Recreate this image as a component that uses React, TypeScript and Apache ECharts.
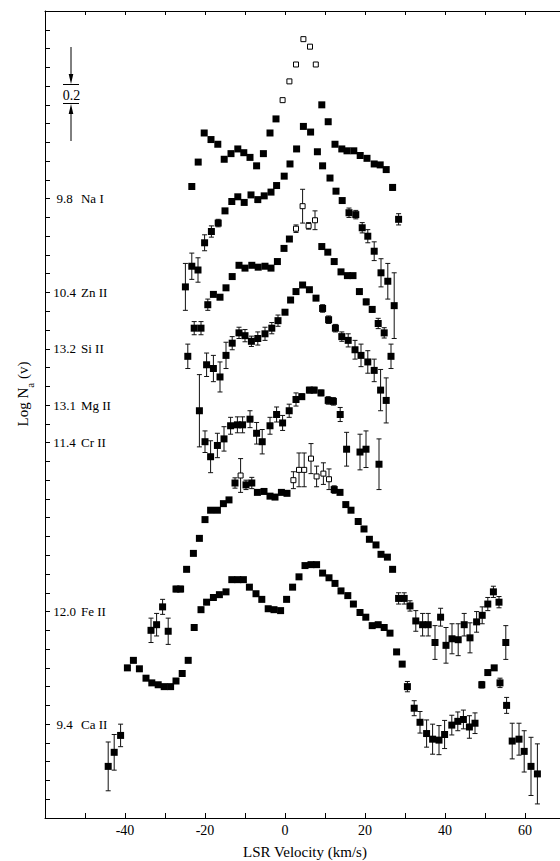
import React, { useEffect, useRef } from 'react';
import * as echarts from 'echarts';

// [velocity km/s, log N offset (dex), error half-width (dex), open symbol flag]
type Pt = [number, number, number, number];

const NA_I: Pt[] = [
  [-23.3, 6.73, 0, 0], [-21.7, 6.99, 0, 0], [-20.2, 7.30, 0, 0], [-18.5, 7.23, 0, 0], [-16.8, 7.18, 0, 0],
  [-15.2, 7.02, 0, 0], [-13.5, 7.08, 0, 0], [-11.8, 7.13, 0, 0], [-10.3, 7.09, 0, 0], [-8.75, 7.04, 0, 0],
  [-7.1, 6.95, 0, 0], [-5.4, 7.08, 0, 0], [-3.75, 7.30, 0, 0], [-2.25, 7.45, 0, 0], [-0.6, 7.65, 0, 1],
  [1.1, 7.85, 0, 1], [2.75, 8.03, 0, 1], [4.6, 8.30, 0, 1], [6.25, 8.22, 0, 1], [7.7, 8.03, 0, 1],
  [9.2, 7.60, 0, 0], [10.8, 7.42, 0, 0], [12.5, 7.18, 0, 0], [14.2, 7.13, 0, 0], [15.5, 7.11, 0, 0],
  [17.2, 7.11, 0, 0], [18.8, 7.06, 0, 0], [20.5, 7.03, 0, 0], [22.3, 6.97, 0, 0], [23.8, 6.96, 0, 0],
  [25.3, 6.91, 0, 0], [26.9, 6.72, 0.03, 0], [28.4, 6.38, 0.06, 0],
];

const ZN_II: Pt[] = [
  [-24.9, 5.66, 0.25, 0], [-23.3, 5.88, 0.14, 0], [-21.75, 5.84, 0.13, 0], [-20.1, 6.13, 0.085, 0], [-18.4, 6.25, 0.06, 0],
  [-16.7, 6.34, 0.04, 0], [-15, 6.47, 0, 0], [-13.3, 6.57, 0, 0], [-11.8, 6.62, 0, 0], [-10.2, 6.56, 0, 0],
  [-8.5, 6.64, 0, 0], [-6.8, 6.59, 0, 0], [-5.2, 6.63, 0, 0], [-3.5, 6.67, 0, 0], [-2.1, 6.74, 0, 0],
  [-0.2, 6.84, 0, 0], [1.25, 6.97, 0, 0], [2.9, 7.13, 0, 0], [4.6, 7.37, 0, 0], [6.4, 7.31, 0, 0],
  [8.1, 7.10, 0, 0], [9.4, 6.95, 0, 0], [11.25, 6.82, 0, 0], [12.75, 6.68, 0, 0], [14.3, 6.58, 0, 0],
  [16, 6.45, 0.05, 0], [17.7, 6.43, 0.045, 0], [19.3, 6.29, 0.055, 0], [20.7, 6.20, 0.07, 0], [22.3, 6.04, 0.1, 0],
  [24, 5.81, 0.15, 0], [25.7, 5.72, 0.19, 0], [27.3, 5.46, 0.35, 0],
];

const SI_II: Pt[] = [
  [-22.7, 5.22, 0.07, 0], [-21, 5.22, 0.07, 0], [-19.3, 5.47, 0.06, 0], [-17.9, 5.58, 0, 0], [-16.25, 5.55, 0, 0],
  [-14.75, 5.65, 0, 0], [-13.2, 5.77, 0, 0], [-11.5, 5.89, 0, 0], [-10, 5.86, 0, 0], [-8.3, 5.89, 0, 0],
  [-6.7, 5.87, 0, 0], [-5, 5.88, 0, 0], [-3.5, 5.86, 0, 0], [-1.9, 5.93, 0, 0], [-0.25, 6.07, 0, 0],
  [1.1, 6.17, 0, 0], [2.75, 6.28, 0.04, 1], [4.4, 6.52, 0.18, 1], [5.9, 6.31, 0.035, 1], [7.5, 6.37, 0.1, 1],
  [9.2, 6.09, 0, 0], [10.7, 6.03, 0, 0], [12.3, 5.93, 0, 0], [14, 5.82, 0, 0], [15.6, 5.78, 0, 0],
  [17, 5.78, 0, 0], [18.6, 5.61, 0, 0], [20.3, 5.50, 0.03, 0], [21.8, 5.42, 0.03, 0], [23.3, 5.27, 0.055, 0],
  [24.8, 5.17, 0.055, 0], [26.5, 4.92, 0.13, 0],
];

const MG_II: Pt[] = [
  [-24.3, 4.92, 0.13, 0], [-19.6, 4.83, 0.125, 0], [-17.9, 4.79, 0.14, 0], [-16.25, 4.70, 0.16, 0], [-14.75, 4.93, 0.14, 0],
  [-13.2, 5.06, 0.07, 0], [-11.5, 5.17, 0.06, 0], [-10, 5.14, 0.065, 0], [-8.4, 5.08, 0.055, 0], [-6.8, 5.11, 0.07, 0],
  [-5, 5.16, 0.07, 0], [-3.3, 5.22, 0.06, 0], [-1.75, 5.30, 0.06, 0], [0, 5.39, 0, 0], [1.4, 5.52, 0, 0],
  [2.75, 5.61, 0, 0], [4.4, 5.68, 0, 0], [6.1, 5.63, 0, 0], [7.75, 5.54, 0, 0], [9.4, 5.43, 0.04, 0],
  [10.9, 5.31, 0.04, 0], [12.6, 5.22, 0.04, 0], [14.2, 5.13, 0.05, 0], [15.8, 5.09, 0.07, 0], [17.5, 4.99, 0.1, 0],
  [19, 4.93, 0.12, 0], [20.7, 4.86, 0.12, 0], [22.3, 4.77, 0.12, 0], [23.9, 4.56, 0.22, 0], [25.3, 4.45, 0.24, 0],
];

const CR_II: Pt[] = [
  [-21.4, 4.34, 0.385, 0], [-20, 4.01, 0.115, 0], [-18.6, 3.85, 0.17, 0], [-16.9, 3.97, 0.13, 0], [-15.25, 4.04, 0.13, 0],
  [-13.6, 4.18, 0.09, 0], [-11.9, 4.19, 0.085, 0], [-10.6, 4.19, 0.085, 0], [-8.75, 4.25, 0.09, 0], [-7.1, 4.10, 0.115, 0],
  [-5.7, 4.01, 0.13, 0], [-3.75, 4.18, 0.09, 0], [-2.1, 4.30, 0.08, 0], [-0.6, 4.21, 0.08, 0], [1.05, 4.34, 0.07, 0],
  [2.75, 4.46, 0.07, 0], [4.2, 4.49, 0.03, 0], [6.1, 4.56, 0.03, 0], [7.3, 4.56, 0.03, 0], [9, 4.53, 0.03, 0],
  [10.8, 4.45, 0.04, 0], [12.1, 4.44, 0.04, 0], [13.8, 4.30, 0.075, 0], [15.4, 3.93, 0.18, 0], [18.75, 3.90, 0.19, 0],
  [20.25, 3.93, 0.195, 0], [23.5, 3.77, 0.27, 0],
];

const FE_II: Pt[] = [
  [-33.5, 2.00, 0.13, 0], [-32.1, 2.06, 0.12, 0], [-30.6, 2.25, 0.08, 0], [-29.2, 1.99, 0.14, 0], [-27.25, 2.44, 0.03, 0],
  [-26.1, 2.44, 0.03, 0], [-24.6, 2.65, 0, 0], [-22.9, 2.82, 0, 0], [-21.4, 2.98, 0, 0], [-20, 3.18, 0, 0],
  [-18.6, 3.28, 0, 0], [-16.9, 3.28, 0, 0], [-15.4, 3.35, 0, 0], [-14, 3.39, 0, 0], [-12.5, 3.57, 0.055, 0],
  [-11.1, 3.65, 0.18, 1], [-9.75, 3.55, 0.05, 0], [-8.3, 3.57, 0.06, 0], [-6.9, 3.47, 0, 0], [-5.25, 3.48, 0, 0],
  [-3.75, 3.43, 0, 0], [-2.5, 3.42, 0, 0], [-0.9, 3.47, 0, 0], [0.5, 3.46, 0, 0], [2.1, 3.60, 0.09, 1],
  [3.5, 3.71, 0.18, 1], [4.8, 3.71, 0.18, 1], [6.5, 3.83, 0.16, 1], [7.9, 3.64, 0.11, 1], [9.6, 3.67, 0.115, 1],
  [11, 3.61, 0.11, 1], [12.3, 3.50, 0.04, 0], [13.75, 3.47, 0, 0], [15.2, 3.34, 0, 0], [16.5, 3.28, 0, 0],
  [18.3, 3.16, 0, 0], [19.75, 3.08, 0, 0], [21.1, 2.97, 0, 0], [22.75, 2.91, 0, 0], [24, 2.81, 0, 0],
  [25.6, 2.78, 0, 0], [26.9, 2.65, 0, 0], [28.4, 2.34, 0.06, 0], [29.8, 2.34, 0.06, 0], [31.25, 2.26, 0.055, 0],
  [32.7, 2.10, 0.11, 0], [34.4, 2.06, 0.12, 0], [35.8, 2.06, 0.12, 0], [37.5, 1.87, 0.18, 0], [38.9, 2.14, 0.095, 0],
  [40.25, 1.84, 0.19, 0], [41.75, 1.91, 0.16, 0], [43.3, 1.90, 0.17, 0], [44.8, 2.06, 0.12, 0], [46.25, 1.92, 0.16, 0],
  [47.9, 2.09, 0.11, 0], [49.3, 2.16, 0.09, 0], [50.7, 2.28, 0.07, 0], [52.1, 2.41, 0.06, 0], [53.5, 2.30, 0.06, 0],
  [55.2, 1.87, 0.18, 0],
];

const CA_II: Pt[] = [
  [-44.2, 0.55, 0.26, 0], [-42.7, 0.70, 0.19, 0], [-41.1, 0.88, 0.12, 0], [-39.4, 1.60, 0, 0], [-37.9, 1.68, 0, 0],
  [-36.4, 1.59, 0, 0], [-34.75, 1.49, 0, 0], [-33.3, 1.44, 0, 0], [-31.7, 1.42, 0, 0], [-30.2, 1.40, 0, 0],
  [-28.6, 1.40, 0, 0], [-27.25, 1.46, 0, 0], [-25.7, 1.54, 0, 0], [-24.2, 1.68, 0, 0], [-22.7, 2.03, 0, 0],
  [-21, 2.22, 0, 0], [-19.6, 2.30, 0, 0], [-17.9, 2.35, 0, 0], [-16.4, 2.38, 0, 0], [-14.75, 2.41, 0, 0],
  [-13.3, 2.54, 0, 0], [-11.8, 2.54, 0, 0], [-10.4, 2.54, 0, 0], [-8.9, 2.46, 0, 0], [-7.25, 2.39, 0, 0],
  [-5.8, 2.33, 0, 0], [-4.2, 2.23, 0, 0], [-2.75, 2.22, 0, 0], [-1.1, 2.21, 0, 0], [0.4, 2.33, 0, 0],
  [1.9, 2.46, 0, 0], [3.5, 2.57, 0, 0], [5, 2.69, 0, 0], [6.5, 2.70, 0, 0], [7.9, 2.70, 0, 0],
  [9.4, 2.61, 0, 0], [11, 2.56, 0, 0], [12.5, 2.50, 0, 0], [14, 2.42, 0, 0], [15.7, 2.37, 0, 0],
  [17.1, 2.28, 0, 0], [18.75, 2.19, 0, 0], [20.2, 2.14, 0, 0], [21.8, 2.05, 0, 0], [23.3, 2.06, 0, 0],
  [24.8, 2.03, 0, 0], [26.25, 1.97, 0, 0], [27.9, 1.77, 0, 0], [29.3, 1.64, 0, 0], [30.6, 1.40, 0.055, 0],
  [32.3, 1.17, 0.08, 0], [33.75, 1.02, 0.115, 0], [35.4, 0.90, 0.145, 0], [36.9, 0.84, 0.16, 0], [38.5, 0.83, 0.155, 0],
  [39.9, 0.89, 0.15, 0], [41.7, 0.99, 0.105, 0], [43.2, 1.03, 0.1, 0], [44.6, 1.05, 0.1, 0], [46.1, 0.97, 0.12, 0],
  [47.5, 1.01, 0.11, 0], [49.2, 1.42, 0.035, 0], [50.7, 1.55, 0, 0], [52.3, 1.60, 0, 0], [53.75, 1.44, 0.05, 0],
  [55.4, 1.20, 0.085, 0], [56.8, 0.82, 0.19, 0], [58.5, 0.84, 0.17, 0], [59.8, 0.71, 0.22, 0], [61.5, 0.55, 0.31, 0],
  [63.1, 0.47, 0.32, 0],
];

const PROFILES: Pt[][] = [NA_I, ZN_II, SI_II, MG_II, CR_II, FE_II, CA_II];
const SPECIES_NAMES = ['Na I', 'Zn II', 'Si II', 'Mg II', 'Cr II', 'Fe II', 'Ca II'];
const LABEL_COLUMNS = ['9.8', '10.4', '13.2', '13.1', '11.4', '12.0', '9.4'];
const LABEL_LEVELS = [6.6, 5.6, 5.0, 4.4, 4.0, 2.2, 1.0];
const X_LABELS = [-40, -20, 0, 20, 40, 60];

const FONT = 'Liberation Serif';
const INK = '#000';

export default function App() {
  const ref = useRef<HTMLDivElement>(null);

  useEffect(() => {
    if (!ref.current) return;
    const chart = echarts.init(ref.current, null, { renderer: 'svg' });

    const series: any[] = [];
    PROFILES.forEach((pts, i) => {
      const name = SPECIES_NAMES[i];
      series.push({
        name: name + ' errors',
        type: 'custom',
        z: 1,
        silent: true,
        clip: false,
        encode: { x: 0, y: [1, 2] },
        data: pts.filter((p) => p[2] > 0).map((p) => [p[0], p[1] - p[2], p[1] + p[2]]),
        renderItem: (_params: any, api: any) => {
          const v = api.value(0);
          const top = api.coord([v, api.value(2)]);
          const bot = api.coord([v, api.value(1)]);
          const w = 2.5;
          const st = { stroke: '#111', lineWidth: 1 };
          return {
            type: 'group',
            children: [
              { type: 'line', shape: { x1: top[0], y1: top[1], x2: bot[0], y2: bot[1] }, style: st },
              { type: 'line', shape: { x1: top[0] - w, y1: top[1], x2: top[0] + w, y2: top[1] }, style: st },
              { type: 'line', shape: { x1: bot[0] - w, y1: bot[1], x2: bot[0] + w, y2: bot[1] }, style: st },
            ],
          };
        },
      });
      series.push({
        name: name,
        type: 'scatter',
        z: 2,
        silent: true,
        symbol: 'rect',
        symbolSize: 7,
        itemStyle: { color: INK, opacity: 1 },
        data: pts.filter((p) => p[3] === 0).map((p) => [p[0], p[1]]),
      });
      series.push({
        name: name + ' open',
        type: 'scatter',
        z: 3,
        silent: true,
        symbol: 'rect',
        symbolSize: 5,
        itemStyle: { color: '#fff', borderColor: INK, borderWidth: 1, opacity: 1 },
        data: pts.filter((p) => p[3] === 1).map((p) => [p[0], p[1]]),
      });
    });

    const lineStyle = { color: INK, width: 1 };
    const barStyle = { stroke: INK, lineWidth: 1 };

    chart.setOption({
      animation: false,
      backgroundColor: '#fff',
      textStyle: { fontFamily: FONT },
      grid: { left: 45, top: 11, width: 520, height: 807, containLabel: false, outerBoundsMode: 'none' },
      xAxis: [
        {
          type: 'value', position: 'bottom', min: -60, max: 70, interval: 10,
          axisLine: { show: true, onZero: false, lineStyle },
          axisTick: { show: true, inside: true, length: 5, lineStyle },
          splitLine: { show: false },
          axisLabel: {
            show: true, margin: 5, color: INK, fontFamily: FONT, fontSize: 14,
            formatter: (v: number) => (X_LABELS.indexOf(Math.round(v)) >= 0 ? String(Math.round(v)) : ''),
          },
          name: 'LSR Velocity (km/s)', nameLocation: 'middle', nameGap: 26,
          nameTextStyle: { color: INK, fontFamily: FONT, fontSize: 15 },
        },
        {
          type: 'value', position: 'top', min: -60, max: 70, interval: 10,
          axisLine: { show: true, onZero: false, lineStyle },
          axisTick: { show: true, inside: true, length: 4, lineStyle },
          splitLine: { show: false },
          axisLabel: { show: false },
        },
      ],
      yAxis: [
        {
          type: 'value', position: 'left', min: 0, max: 8.6, interval: 0.2,
          axisLine: { show: true, onZero: false, lineStyle },
          axisTick: { show: true, inside: true, length: 5, lineStyle },
          splitLine: { show: false },
          axisLabel: {
            show: true, inside: true, margin: 9, color: INK, fontFamily: FONT, fontSize: 13,
            formatter: (v: number) => {
              const k = LABEL_LEVELS.findIndex((l) => Math.abs(l - v) < 0.01);
              return k < 0 ? '' : `{n|${LABEL_COLUMNS[k]}}{s|${SPECIES_NAMES[k]}}`;
            },
            rich: {
              n: { width: 21, align: 'right', color: INK, fontFamily: FONT, fontSize: 13 },
              s: { padding: [0, 0, 0, 6], color: INK, fontFamily: FONT, fontSize: 13 },
            },
          },
        },
        {
          type: 'value', position: 'right', min: 0, max: 8.6, interval: 0.2,
          axisLine: { show: true, onZero: false, lineStyle },
          axisTick: { show: true, inside: true, length: 5, lineStyle },
          splitLine: { show: false },
          axisLabel: { show: false },
        },
      ],
      graphic: [
        {
          type: 'text', x: 23, y: 394, rotation: Math.PI / 2, silent: true,
          style: {
            text: '{a|Log N}{b|a}{a| (v)}',
            align: 'center', verticalAlign: 'middle',
            rich: {
              a: { fontFamily: FONT, fontSize: 15, fill: INK, color: INK, verticalAlign: 'middle', lineHeight: 24 },
              b: { fontFamily: FONT, fontSize: 11, fill: INK, color: INK, verticalAlign: 'bottom', lineHeight: 24 },
            },
          },
        },
        { type: 'line', silent: true, shape: { x1: 71, y1: 47, x2: 71, y2: 76 }, style: barStyle },
        { type: 'polygon', silent: true, shape: { points: [[68.7, 74], [73.3, 74], [71, 84]] }, style: { fill: INK } },
        { type: 'line', silent: true, shape: { x1: 63, y1: 84.5, x2: 79, y2: 84.5 }, style: barStyle },
        {
          type: 'text', silent: true, x: 71.5, y: 95.5,
          style: { text: '0.2', fontFamily: FONT, fontSize: 14, fill: INK, align: 'center', verticalAlign: 'middle' },
        },
        { type: 'line', silent: true, shape: { x1: 63, y1: 103.5, x2: 79, y2: 103.5 }, style: barStyle },
        { type: 'polygon', silent: true, shape: { points: [[71, 104], [68.7, 114], [73.3, 114]] }, style: { fill: INK } },
        { type: 'line', silent: true, shape: { x1: 71, y1: 112, x2: 71, y2: 141 }, style: barStyle },
      ],
      series,
    });

    return () => chart.dispose();
  }, []);

  return (
    <div
      ref={ref}
      style={{ position: 'fixed', left: 0, top: 0, width: 560, height: 861, background: '#fff' }}
    />
  );
}
